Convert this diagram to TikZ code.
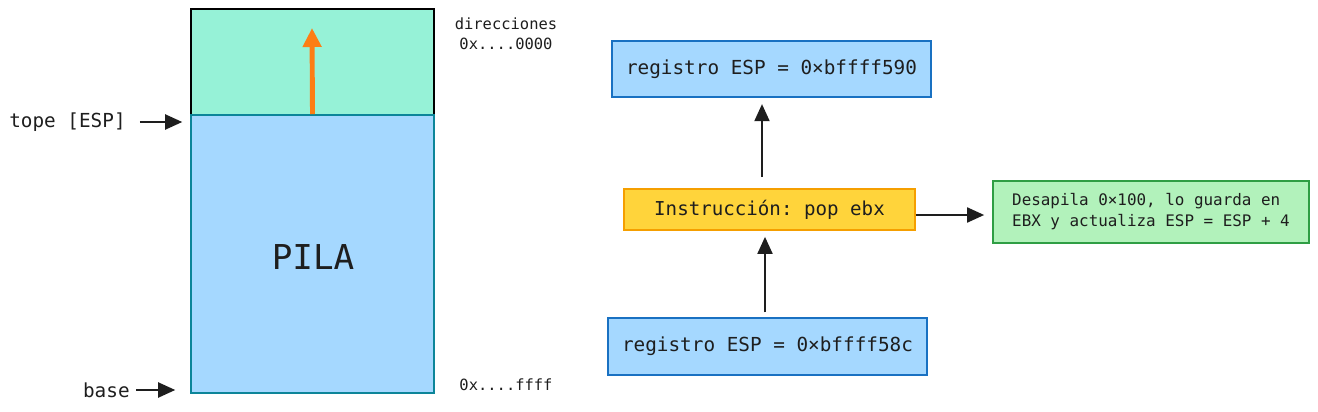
\documentclass[tikz,border=0pt]{standalone}
\usepackage{fontspec}
\setmonofont{DejaVu Sans Mono}
\usetikzlibrary{positioning}
\usetikzlibrary{arrows.meta}
\definecolor{ink}{RGB}{30,30,30}
\definecolor{stack-blue}{RGB}{165,216,255}
\definecolor{stack-edge}{RGB}{12,133,153}
\definecolor{stack-green}{RGB}{150,242,215}
\definecolor{grow-orange}{RGB}{253,126,20}
\definecolor{reg-edge}{RGB}{25,113,194}
\definecolor{ins-fill}{RGB}{255,212,59}
\definecolor{ins-edge}{RGB}{245,159,0}
\definecolor{res-fill}{RGB}{178,242,187}
\definecolor{res-edge}{RGB}{47,158,68}

\begin{document}
\begin{tikzpicture}[x=0.02cm, y=-0.02cm, text=ink,
    lbl/.style={inner sep=0pt, font=\ttfamily\fontsize{11}{13}\selectfont},
    addr/.style={inner sep=0pt, align=center, font=\ttfamily\fontsize{8.8}{11.3}\selectfont},
    cell/.style={minimum width=4.86cm, line width=0.9pt, inner sep=0pt},
    regbox/.style={draw=reg-edge, fill=stack-blue, line width=1pt, minimum width=6.38cm, minimum height=1.13cm, font=\ttfamily\fontsize{11}{13}\selectfont},
    insbox/.style={draw=ins-edge, fill=ins-fill, line width=1pt, minimum width=5.82cm, minimum height=0.82cm, font=\ttfamily\fontsize{10.9}{13}\selectfont},
    resbox/.style={draw=res-edge, fill=res-fill, line width=1pt, minimum width=6.32cm, minimum height=1.24cm, align=left, font=\ttfamily\fontsize{9.05}{11.9}\selectfont},
    conn/.style={draw=ink, line width=1.1pt, -{Triangle[length=0.34cm, width=0.3cm]}},
    growarrow/.style={draw=grow-orange, line width=2.8pt, -{Triangle[length=0.38cm, width=0.36cm]}}]
\useasboundingbox (0,0) rectangle (1318,412);

\node[cell, draw=black, fill=stack-green, minimum height=2.12cm] (free) at (312.5,62) {};
\node[cell, draw=stack-edge, fill=stack-blue, minimum height=5.56cm] (pila) at (312.5,254) {};
\node[font=\ttfamily\fontsize{19.5}{23}\selectfont] (pilatxt) at (313,257) {PILA};
\coordinate (grow) at (312,28);
\draw[growarrow] (pila.north) -- (grow);

\node[lbl, anchor=east] (tope) at (126,122) {tope [ESP]};
\node[lbl, anchor=east] (base) at (130,390) {base};
\draw[conn, shorten <=0.28cm, shorten >=0.16cm] (tope.east) -- (tope.east -| pila.west);
\draw[conn, shorten <=0.12cm, shorten >=0.3cm] (base.east) -- (base.east -| pila.west);

\node[addr] (low) at (506,34) {direcciones\\0x....0000};
\node[addr] (high) at (506,385) {0x....ffff};

\node[regbox] (after) at (771.5,69) {registro ESP = 0×bffff590};
\node[insbox] (ins) at (769.5,209.5) {Instrucción: pop ebx};
\node[regbox] (before) at (767.5,346.5) {registro ESP = 0×bffff58c};
\node[resbox] (res) at (1151,212) {Desapila 0×100, lo guarda en\\EBX y actualiza ESP = ESP + 4};

\coordinate (upx) at (762,0);
\coordinate (dnx) at (765,0);
\coordinate (midy) at (0,215);
\draw[conn, shorten <=0.22cm, shorten >=0.12cm] (ins.north -| upx) -- (after.south -| upx);
\draw[conn, shorten <=0.1cm, shorten >=0.12cm] (before.north -| dnx) -- (ins.south -| dnx);
\draw[conn, shorten >=0.16cm] (ins.east |- midy) -- (res.west |- midy);
\end{tikzpicture}
\end{document}
